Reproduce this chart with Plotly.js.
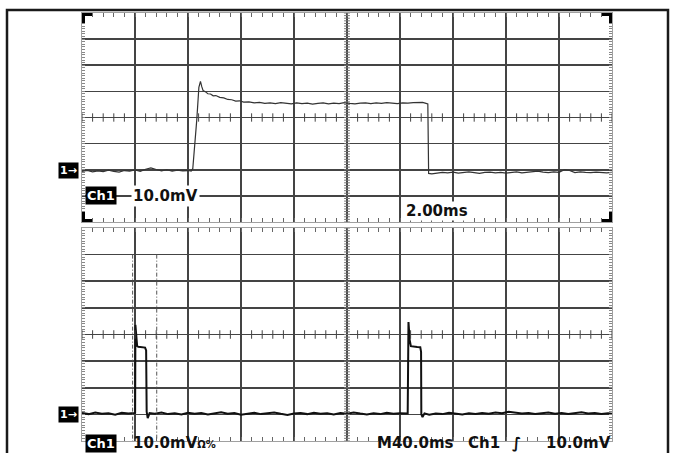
<!DOCTYPE html>
<html><head><meta charset="utf-8">
<script src="https://cdn.plot.ly/plotly-3.0.1.min.js"></script>
<style>html,body{margin:0;padding:0;background:#fff}#chart{width:673px;height:453px}</style>
</head><body><div id="chart"></div>
<script>
// ---- data ----
// Upper window: 2.00 ms/div, 10.0 mV/div
const topTimeMs = [0,0.2,0.4,0.6,0.8,1.0,1.2,1.4,1.6,1.8,2.0,2.2,2.4,2.6,2.8,3.0,3.2,3.4,3.6,3.8,4.0,4.12,4.18,4.25,4.33,4.41,4.47,4.52,4.57,4.65,4.75,4.85,4.95,5.05,5.2,5.35,5.5,5.65,5.8,5.95,6.1,6.3,6.5,6.7,6.9,7.1,7.3,7.5,7.7,7.9,8.1,8.3,8.5,8.7,8.9,9.1,9.3,9.5,9.7,9.9,10.1,10.3,10.5,10.7,10.9,11.1,11.3,11.5,11.7,11.9,12.1,12.3,12.5,12.7,12.85,12.95,13.05,13.08,13.2,13.4,13.6,13.8,14.0,14.2,14.4,14.6,14.8,15.0,15.2,15.4,15.6,15.8,16.0,16.2,16.4,16.6,16.8,17.0,17.2,17.4,17.6,17.8,18.0,18.2,18.4,18.6,18.8,19.0,19.2,19.4,19.6,19.8,20.0];
const topVoltMv = [-20.6,-20.3,-20.8,-20.4,-20.7,-20.2,-20.6,-20.9,-20.3,-20.5,-20.1,-20.6,-19.8,-19.3,-19.9,-20.4,-20.0,-20.5,-20.2,-20.4,-20.3,-20.5,-19.6,-12.0,-1.0,11.5,13.8,11.8,10.3,9.9,9.1,9.0,8.3,8.4,7.7,7.5,6.9,6.8,6.3,6.4,5.9,6.0,5.6,5.8,5.4,5.6,5.3,5.7,5.4,5.2,5.6,5.3,5.5,5.1,5.4,5.6,5.2,5.5,5.3,5.7,5.4,5.2,5.5,5.6,5.3,5.6,5.4,5.7,5.5,5.3,5.6,5.5,5.7,5.9,5.8,5.5,5.2,-21.4,-21.6,-21.3,-21.0,-21.2,-20.9,-21.3,-21.0,-20.8,-21.1,-21.4,-21.0,-20.9,-21.2,-21.0,-21.3,-21.1,-20.8,-21.2,-21.0,-20.7,-20.5,-20.9,-21.1,-20.8,-21.0,-20.0,-20.3,-21.1,-20.8,-21.0,-21.1,-20.9,-21.0,-21.2,-21.0];
// Lower window: 40.0 ms/div, 10.0 mV/div
const bottomTimeMs = [0,5,10,15,20,25,30,35,39.5,40.1,40.3,41.0,41.6,42.5,44,46,47.6,48.4,48.8,49.6,51,55,60,65,70,75,80,85,90,95,100,105,110,115,120,125,130,135,140,145,150,155,160,165,170,175,180,185,190,195,200,205,210,215,220,225,230,235,240,245.8,246.4,247.3,248.2,250,253,255.3,255.9,256.1,257,258.5,262,267,272,277,282,287,292,297,302,307,312,317,322,327,332,337,342,347,352,357,362,367,372,377,382,387,392,397,400];
const bottomVoltMv = [-29.5,-29.9,-29.3,-29.8,-29.6,-30.1,-29.4,-29.7,-29.5,-29.4,3.6,-3.0,-4.3,-4.6,-4.7,-4.8,-4.9,-6.0,-29.0,-31.4,-29.5,-29.8,-29.3,-29.9,-29.6,-30.0,-29.4,-29.8,-29.5,-30.0,-29.6,-29.2,-29.8,-29.5,-30.1,-29.7,-29.4,-29.9,-29.6,-29.3,-29.8,-30.2,-29.7,-29.5,-29.9,-29.4,-29.8,-29.6,-30.0,-29.5,-29.8,-29.3,-29.7,-30.0,-29.6,-29.9,-29.4,-29.8,-29.6,-29.7,4.7,-2.0,-4.4,-4.6,-4.7,-4.8,-6.5,-30.0,-31.0,-29.6,-30.1,-29.7,-29.9,-29.4,-29.8,-30.0,-29.6,-29.9,-29.5,-29.8,-29.3,-29.6,-29.0,-29.4,-29.7,-29.5,-29.9,-29.6,-29.3,-29.8,-29.5,-29.9,-29.6,-29.2,-29.7,-29.5,-29.9,-29.6,-29.8];
const cursorTimesMs = [38.2, 56.4];
const cursorSpanMv = [30, -40];
// readout texts
const chName = 'Ch1';
const gndMarker = '1→';
const voltsPerDiv = '10.0mV';
const zoomTimebase = '2.00ms';
const bottomVoltsText = '10.0mV';
const bottomVoltsSuffix = 'Ω%';
const mainTimebase = 'M40.0ms';
const trigSlope = '∫';
const trigLevel = '10.0mV';

// ---- geometry helpers ----
const W = 673, H = 453;
const px = v => v / W;
const py = v => 1 - v / H;
const topBox = {l: 82, r: 612, t: 13, b: 222};
const botBox = {l: 82, r: 612, t: 228, b: 441};

const gridCol = '#444';
function xAx(box, range, dt, mdt, anchor) {
  return {domain: [px(box.l), px(box.r)], range: range, anchor: anchor,
    showgrid: true, gridcolor: gridCol, gridwidth: 1.6, tick0: 0, dtick: dt,
    ticks: 'inside', ticklen: 4, tickcolor: '#666', tickwidth: 1,
    minor: {tick0: 0, dtick: mdt, ticks: 'inside', ticklen: 4, tickcolor: '#666', tickwidth: 1, showgrid: false},
    showline: true, linecolor: '#a0a0a0', linewidth: 1, mirror: 'ticks',
    zeroline: false, showticklabels: false, fixedrange: true};
}
function yAx(box, range, dt, mdt, anchor) {
  return {domain: [py(box.b), py(box.t)], range: range, anchor: anchor,
    showgrid: true, gridcolor: gridCol, gridwidth: 1.6, tick0: 0, dtick: dt,
    ticks: 'inside', ticklen: 3, tickcolor: '#888', tickwidth: 1,
    minor: {tick0: 0, dtick: mdt, ticks: 'inside', ticklen: 3, tickcolor: '#888', tickwidth: 1, showgrid: false},
    showline: true, linecolor: '#a0a0a0', linewidth: 1, mirror: 'ticks',
    zeroline: false, showticklabels: false, fixedrange: true};
}

const traces = [
  {x: topTimeMs, y: topVoltMv, xaxis: 'x', yaxis: 'y', mode: 'lines',
   line: {color: '#333', width: 1.2}, hoverinfo: 'skip', showlegend: false},
  {x: bottomTimeMs, y: bottomVoltMv, xaxis: 'x2', yaxis: 'y2', mode: 'lines',
   line: {color: '#111', width: 2}, hoverinfo: 'skip', showlegend: false}
];
cursorTimesMs.forEach(t => traces.push({x: [t, t], y: cursorSpanMv, xaxis: 'x2', yaxis: 'y2',
  mode: 'lines', line: {color: '#555', width: 1, dash: '4px,2px,1px,2px'}, hoverinfo: 'skip', showlegend: false}));

// centre-line graticule ticks
function crossTicks(xr, yr, xstep, ystep, xh, yh, xref, yref) {
  let p = '';
  const yc = (yr[0] + yr[1]) / 2, xc = (xr[0] + xr[1]) / 2;
  for (let t = xr[0]; t <= xr[1] + 1e-9; t += xstep) p += `M${t},${yc - yh}L${t},${yc + yh}`;
  let q = '';
  for (let v = yr[0]; v <= yr[1] + 1e-9; v += ystep) q += `M${xc - xh},${v}L${xc + xh},${v}`;
  return [
    {type: 'path', path: p, xref: xref, yref: yref, line: {color: '#444', width: 1}},
    {type: 'path', path: q, xref: xref, yref: yref, line: {color: '#777', width: 1}}
  ];
}
let shapes = [];
shapes = shapes.concat(crossTicks([0, 20], [-40, 40], 0.4, 1, 0.11, 1.6, 'x', 'y'));
shapes = shapes.concat(crossTicks([0, 400], [-40, 40], 8, 1, 2.2, 1.6, 'x2', 'y2'));

// corner brackets on upper window
function rectPx(x0, y0, x1, y1, col) {
  return {type: 'rect', xref: 'paper', yref: 'paper', x0: px(x0), x1: px(x1), y0: py(y1), y1: py(y0),
    fillcolor: col, line: {width: 0}};
}
const arm = 10, th = 3;
const B = topBox;
[[B.l, B.t, 1, 1], [B.r, B.t, -1, 1], [B.l, B.b, 1, -1], [B.r, B.b, -1, -1]].forEach(([cx, cy, sx, sy]) => {
  shapes.push(rectPx(Math.min(cx, cx + sx * arm), Math.min(cy, cy + sy * th), Math.max(cx, cx + sx * arm), Math.max(cy, cy + sy * th), '#000'));
  shapes.push(rectPx(Math.min(cx, cx + sx * th), Math.min(cy, cy + sy * arm), Math.max(cx, cx + sx * th), Math.max(cy, cy + sy * arm), '#000'));
});
// outer frame
shapes.push({type: 'rect', xref: 'paper', yref: 'paper', x0: px(7), x1: px(668), y0: -0.1, y1: py(10),
  line: {color: '#1a1a1a', width: 2.5}, fillcolor: 'rgba(0,0,0,0)'});

const F = 'DejaVu Sans, sans-serif';
function ann(text, x, y, opts) {
  return Object.assign({text: text, x: px(x), y: py(y), xref: 'paper', yref: 'paper', showarrow: false,
    xanchor: 'left', yanchor: 'middle', font: {family: F, size: 15, color: '#111', weight: 'bold'}, borderpad: 0}, opts || {});
}
const inv = {bgcolor: '#000', font: {family: F, size: 13, color: '#fff', weight: 'bold'}, borderpad: 1};
const invSmall = Object.assign({}, inv, {font: {family: F, size: 11, color: '#fff', weight: 'bold'}});
const annotations = [
  ann(gndMarker, 58, 170.5, invSmall),
  ann(gndMarker, 58, 414.5, invSmall),
  ann(chName, 85, 195.5, inv),
  ann(voltsPerDiv, 131, 195.5, {bgcolor: '#fff', borderpad: 1}),
  ann(zoomTimebase, 405, 211, {bgcolor: '#fff'}),
  ann(chName, 85, 453, Object.assign({}, inv, {yanchor: 'bottom'})),
  ann(bottomVoltsText + '<span style="font-size:10px">' + bottomVoltsSuffix + '</span>', 132, 453, {yanchor: 'bottom'}),
  ann(mainTimebase, 376, 453, {yanchor: 'bottom'}),
  ann(chName, 467, 453, {yanchor: 'bottom'}),
  ann(trigSlope, 511, 453, {yanchor: 'bottom'}),
  ann(trigLevel, 545, 453, {yanchor: 'bottom'})
];

const layout = {
  width: W, height: H, margin: {l: 0, r: 0, t: 0, b: 0},
  paper_bgcolor: '#fff', plot_bgcolor: '#fff', showlegend: false,
  font: {family: F},
  xaxis: xAx(topBox, [0, 20], 2, 0.4, 'y'),
  yaxis: yAx(topBox, [-40, 40], 10, 1, 'x'),
  xaxis2: xAx(botBox, [0, 400], 40, 8, 'y2'),
  yaxis2: yAx(botBox, [-40, 40], 10, 1, 'x2'),
  shapes: shapes, annotations: annotations
};
Plotly.newPlot('chart', traces, layout, {staticPlot: true, displayModeBar: false});
</script></body></html>
